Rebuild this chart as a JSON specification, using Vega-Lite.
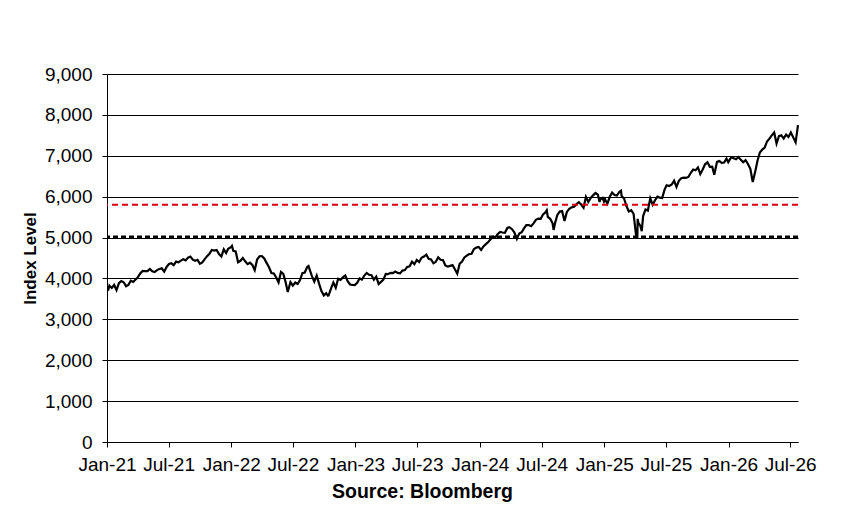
{
  "$schema": "https://vega.github.io/schema/vega-lite/v6.json",
  "width": 691,
  "height": 368,
  "autosize": "none",
  "padding": {"left": 107, "top": 74, "right": 43, "bottom": 69},
  "background": "white",
  "config": {
    "view": {"stroke": null},
    "font": "Liberation Sans",
    "axis": {
      "labelFont": "Liberation Sans",
      "labelFontSize": 19,
      "labelColor": "black",
      "titleFont": "Liberation Sans",
      "titleColor": "black",
      "titleFontWeight": "bold",
      "domainColor": "black",
      "tickColor": "black",
      "tickSize": 5,
      "labelOverlap": false,
      "labelFlush": false
    }
  },
  "datasets": {
    "index": [
      {"date": "2021/01/04", "close": 3701},
      {"date": "2021/01/08", "close": 3825},
      {"date": "2021/01/15", "close": 3768},
      {"date": "2021/01/22", "close": 3841},
      {"date": "2021/01/29", "close": 3714},
      {"date": "2021/02/05", "close": 3887},
      {"date": "2021/02/12", "close": 3934},
      {"date": "2021/02/19", "close": 3907},
      {"date": "2021/02/26", "close": 3811},
      {"date": "2021/03/05", "close": 3842},
      {"date": "2021/03/12", "close": 3943},
      {"date": "2021/03/19", "close": 3913},
      {"date": "2021/03/26", "close": 3975},
      {"date": "2021/04/01", "close": 4020},
      {"date": "2021/04/09", "close": 4129},
      {"date": "2021/04/16", "close": 4185},
      {"date": "2021/04/23", "close": 4180},
      {"date": "2021/04/30", "close": 4181},
      {"date": "2021/05/07", "close": 4233},
      {"date": "2021/05/14", "close": 4174},
      {"date": "2021/05/21", "close": 4156},
      {"date": "2021/05/28", "close": 4204},
      {"date": "2021/06/04", "close": 4230},
      {"date": "2021/06/11", "close": 4247},
      {"date": "2021/06/18", "close": 4166},
      {"date": "2021/06/25", "close": 4281},
      {"date": "2021/07/02", "close": 4352},
      {"date": "2021/07/09", "close": 4370},
      {"date": "2021/07/16", "close": 4327},
      {"date": "2021/07/23", "close": 4412},
      {"date": "2021/07/30", "close": 4395},
      {"date": "2021/08/06", "close": 4437},
      {"date": "2021/08/13", "close": 4468},
      {"date": "2021/08/20", "close": 4442},
      {"date": "2021/08/27", "close": 4509},
      {"date": "2021/09/03", "close": 4535},
      {"date": "2021/09/10", "close": 4459},
      {"date": "2021/09/17", "close": 4433},
      {"date": "2021/09/24", "close": 4455},
      {"date": "2021/10/01", "close": 4357},
      {"date": "2021/10/08", "close": 4391},
      {"date": "2021/10/15", "close": 4471},
      {"date": "2021/10/22", "close": 4545},
      {"date": "2021/10/29", "close": 4605},
      {"date": "2021/11/05", "close": 4697},
      {"date": "2021/11/12", "close": 4683},
      {"date": "2021/11/19", "close": 4698},
      {"date": "2021/11/26", "close": 4595},
      {"date": "2021/12/03", "close": 4538},
      {"date": "2021/12/10", "close": 4712},
      {"date": "2021/12/17", "close": 4621},
      {"date": "2021/12/23", "close": 4726},
      {"date": "2021/12/31", "close": 4766},
      {"date": "2022/01/03", "close": 4796},
      {"date": "2022/01/07", "close": 4677},
      {"date": "2022/01/14", "close": 4663},
      {"date": "2022/01/21", "close": 4398},
      {"date": "2022/01/28", "close": 4432},
      {"date": "2022/02/04", "close": 4501},
      {"date": "2022/02/11", "close": 4419},
      {"date": "2022/02/18", "close": 4349},
      {"date": "2022/02/25", "close": 4385},
      {"date": "2022/03/04", "close": 4329},
      {"date": "2022/03/11", "close": 4204},
      {"date": "2022/03/18", "close": 4463},
      {"date": "2022/03/25", "close": 4543},
      {"date": "2022/04/01", "close": 4546},
      {"date": "2022/04/08", "close": 4488},
      {"date": "2022/04/14", "close": 4393},
      {"date": "2022/04/22", "close": 4272},
      {"date": "2022/04/29", "close": 4132},
      {"date": "2022/05/06", "close": 4123},
      {"date": "2022/05/13", "close": 4024},
      {"date": "2022/05/20", "close": 3901},
      {"date": "2022/05/27", "close": 4158},
      {"date": "2022/06/03", "close": 4109},
      {"date": "2022/06/10", "close": 3901},
      {"date": "2022/06/16", "close": 3667},
      {"date": "2022/06/24", "close": 3912},
      {"date": "2022/07/01", "close": 3825},
      {"date": "2022/07/08", "close": 3899},
      {"date": "2022/07/15", "close": 3863},
      {"date": "2022/07/22", "close": 3962},
      {"date": "2022/07/29", "close": 4130},
      {"date": "2022/08/05", "close": 4145},
      {"date": "2022/08/12", "close": 4280},
      {"date": "2022/08/16", "close": 4305},
      {"date": "2022/08/19", "close": 4228},
      {"date": "2022/08/26", "close": 4058},
      {"date": "2022/09/02", "close": 3924},
      {"date": "2022/09/09", "close": 4068},
      {"date": "2022/09/16", "close": 3873},
      {"date": "2022/09/23", "close": 3693},
      {"date": "2022/09/30", "close": 3586},
      {"date": "2022/10/07", "close": 3640},
      {"date": "2022/10/12", "close": 3577},
      {"date": "2022/10/14", "close": 3583},
      {"date": "2022/10/21", "close": 3753},
      {"date": "2022/10/28", "close": 3901},
      {"date": "2022/11/04", "close": 3771},
      {"date": "2022/11/11", "close": 3993},
      {"date": "2022/11/18", "close": 3965},
      {"date": "2022/11/25", "close": 4026},
      {"date": "2022/12/02", "close": 4072},
      {"date": "2022/12/09", "close": 3934},
      {"date": "2022/12/16", "close": 3852},
      {"date": "2022/12/23", "close": 3845},
      {"date": "2022/12/30", "close": 3840},
      {"date": "2023/01/06", "close": 3895},
      {"date": "2023/01/13", "close": 3999},
      {"date": "2023/01/20", "close": 3973},
      {"date": "2023/01/27", "close": 4071},
      {"date": "2023/02/03", "close": 4136},
      {"date": "2023/02/10", "close": 4090},
      {"date": "2023/02/17", "close": 4079},
      {"date": "2023/02/24", "close": 3970},
      {"date": "2023/03/03", "close": 4046},
      {"date": "2023/03/10", "close": 3862},
      {"date": "2023/03/17", "close": 3917},
      {"date": "2023/03/24", "close": 3971},
      {"date": "2023/03/31", "close": 4109},
      {"date": "2023/04/06", "close": 4105},
      {"date": "2023/04/14", "close": 4138},
      {"date": "2023/04/21", "close": 4133},
      {"date": "2023/04/28", "close": 4169},
      {"date": "2023/05/05", "close": 4136},
      {"date": "2023/05/12", "close": 4124},
      {"date": "2023/05/19", "close": 4192},
      {"date": "2023/05/26", "close": 4205},
      {"date": "2023/06/02", "close": 4282},
      {"date": "2023/06/09", "close": 4299},
      {"date": "2023/06/16", "close": 4410},
      {"date": "2023/06/23", "close": 4348},
      {"date": "2023/06/30", "close": 4450},
      {"date": "2023/07/07", "close": 4399},
      {"date": "2023/07/14", "close": 4505},
      {"date": "2023/07/21", "close": 4536},
      {"date": "2023/07/28", "close": 4582},
      {"date": "2023/08/04", "close": 4478},
      {"date": "2023/08/11", "close": 4464},
      {"date": "2023/08/18", "close": 4370},
      {"date": "2023/08/25", "close": 4406},
      {"date": "2023/09/01", "close": 4516},
      {"date": "2023/09/08", "close": 4457},
      {"date": "2023/09/15", "close": 4450},
      {"date": "2023/09/22", "close": 4320},
      {"date": "2023/09/29", "close": 4288},
      {"date": "2023/10/06", "close": 4308},
      {"date": "2023/10/13", "close": 4327},
      {"date": "2023/10/20", "close": 4224},
      {"date": "2023/10/27", "close": 4117},
      {"date": "2023/11/03", "close": 4358},
      {"date": "2023/11/10", "close": 4415},
      {"date": "2023/11/17", "close": 4514},
      {"date": "2023/11/24", "close": 4559},
      {"date": "2023/12/01", "close": 4595},
      {"date": "2023/12/08", "close": 4604},
      {"date": "2023/12/15", "close": 4719},
      {"date": "2023/12/22", "close": 4754},
      {"date": "2023/12/29", "close": 4770},
      {"date": "2024/01/05", "close": 4697},
      {"date": "2024/01/12", "close": 4784},
      {"date": "2024/01/19", "close": 4840},
      {"date": "2024/01/26", "close": 4891},
      {"date": "2024/02/02", "close": 4959},
      {"date": "2024/02/09", "close": 5027},
      {"date": "2024/02/16", "close": 5006},
      {"date": "2024/02/23", "close": 5089},
      {"date": "2024/03/01", "close": 5137},
      {"date": "2024/03/08", "close": 5124},
      {"date": "2024/03/15", "close": 5117},
      {"date": "2024/03/22", "close": 5234},
      {"date": "2024/03/28", "close": 5254},
      {"date": "2024/04/05", "close": 5204},
      {"date": "2024/04/12", "close": 5123},
      {"date": "2024/04/19", "close": 4967},
      {"date": "2024/04/26", "close": 5100},
      {"date": "2024/05/03", "close": 5128},
      {"date": "2024/05/10", "close": 5223},
      {"date": "2024/05/17", "close": 5303},
      {"date": "2024/05/24", "close": 5305},
      {"date": "2024/05/31", "close": 5278},
      {"date": "2024/06/07", "close": 5347},
      {"date": "2024/06/14", "close": 5432},
      {"date": "2024/06/21", "close": 5465},
      {"date": "2024/06/28", "close": 5460},
      {"date": "2024/07/05", "close": 5567},
      {"date": "2024/07/12", "close": 5615},
      {"date": "2024/07/16", "close": 5667},
      {"date": "2024/07/19", "close": 5505},
      {"date": "2024/07/26", "close": 5459},
      {"date": "2024/08/02", "close": 5347},
      {"date": "2024/08/05", "close": 5186},
      {"date": "2024/08/09", "close": 5344},
      {"date": "2024/08/16", "close": 5554},
      {"date": "2024/08/23", "close": 5635},
      {"date": "2024/08/30", "close": 5648},
      {"date": "2024/09/06", "close": 5408},
      {"date": "2024/09/13", "close": 5626},
      {"date": "2024/09/20", "close": 5703},
      {"date": "2024/09/27", "close": 5738},
      {"date": "2024/10/04", "close": 5751},
      {"date": "2024/10/11", "close": 5815},
      {"date": "2024/10/18", "close": 5865},
      {"date": "2024/10/25", "close": 5808},
      {"date": "2024/11/01", "close": 5729},
      {"date": "2024/11/08", "close": 5996},
      {"date": "2024/11/15", "close": 5871},
      {"date": "2024/11/22", "close": 5969},
      {"date": "2024/11/29", "close": 6032},
      {"date": "2024/12/06", "close": 6090},
      {"date": "2024/12/13", "close": 6051},
      {"date": "2024/12/18", "close": 5872},
      {"date": "2024/12/20", "close": 5931},
      {"date": "2024/12/27", "close": 5971},
      {"date": "2024/12/31", "close": 5882},
      {"date": "2025/01/03", "close": 5942},
      {"date": "2025/01/10", "close": 5827},
      {"date": "2025/01/17", "close": 5997},
      {"date": "2025/01/24", "close": 6101},
      {"date": "2025/01/31", "close": 6041},
      {"date": "2025/02/07", "close": 6026},
      {"date": "2025/02/14", "close": 6115},
      {"date": "2025/02/19", "close": 6144},
      {"date": "2025/02/21", "close": 6013},
      {"date": "2025/02/28", "close": 5955},
      {"date": "2025/03/07", "close": 5770},
      {"date": "2025/03/14", "close": 5639},
      {"date": "2025/03/21", "close": 5668},
      {"date": "2025/03/28", "close": 5581},
      {"date": "2025/04/04", "close": 5074},
      {"date": "2025/04/08", "close": 4983},
      {"date": "2025/04/09", "close": 5457},
      {"date": "2025/04/11", "close": 5363},
      {"date": "2025/04/17", "close": 5283},
      {"date": "2025/04/21", "close": 5158},
      {"date": "2025/04/25", "close": 5525},
      {"date": "2025/05/02", "close": 5687},
      {"date": "2025/05/09", "close": 5660},
      {"date": "2025/05/16", "close": 5958},
      {"date": "2025/05/23", "close": 5803},
      {"date": "2025/05/30", "close": 5912},
      {"date": "2025/06/06", "close": 6000},
      {"date": "2025/06/13", "close": 5977},
      {"date": "2025/06/20", "close": 5968},
      {"date": "2025/06/27", "close": 6173},
      {"date": "2025/07/03", "close": 6279},
      {"date": "2025/07/11", "close": 6260},
      {"date": "2025/07/18", "close": 6297},
      {"date": "2025/07/25", "close": 6389},
      {"date": "2025/08/01", "close": 6238},
      {"date": "2025/08/08", "close": 6389},
      {"date": "2025/08/15", "close": 6450},
      {"date": "2025/08/22", "close": 6467},
      {"date": "2025/08/29", "close": 6460},
      {"date": "2025/09/05", "close": 6482},
      {"date": "2025/09/12", "close": 6584},
      {"date": "2025/09/19", "close": 6664},
      {"date": "2025/09/26", "close": 6644},
      {"date": "2025/10/03", "close": 6716},
      {"date": "2025/10/10", "close": 6553},
      {"date": "2025/10/17", "close": 6664},
      {"date": "2025/10/24", "close": 6792},
      {"date": "2025/10/31", "close": 6840},
      {"date": "2025/11/07", "close": 6729},
      {"date": "2025/11/14", "close": 6734},
      {"date": "2025/11/20", "close": 6538},
      {"date": "2025/11/28", "close": 6849},
      {"date": "2025/12/05", "close": 6870},
      {"date": "2025/12/12", "close": 6827},
      {"date": "2025/12/19", "close": 6834},
      {"date": "2025/12/26", "close": 6930},
      {"date": "2025/12/31", "close": 6845},
      {"date": "2026/01/09", "close": 6966},
      {"date": "2026/01/16", "close": 6940},
      {"date": "2026/01/23", "close": 6915},
      {"date": "2026/01/30", "close": 6970},
      {"date": "2026/02/06", "close": 6900},
      {"date": "2026/02/13", "close": 6840},
      {"date": "2026/02/20", "close": 6890},
      {"date": "2026/02/27", "close": 6800},
      {"date": "2026/03/06", "close": 6680},
      {"date": "2026/03/13", "close": 6360},
      {"date": "2026/03/20", "close": 6600},
      {"date": "2026/03/27", "close": 6880},
      {"date": "2026/04/03", "close": 7080},
      {"date": "2026/04/10", "close": 7150},
      {"date": "2026/04/17", "close": 7200},
      {"date": "2026/04/24", "close": 7350},
      {"date": "2026/05/01", "close": 7420},
      {"date": "2026/05/08", "close": 7500},
      {"date": "2026/05/15", "close": 7570},
      {"date": "2026/05/22", "close": 7300},
      {"date": "2026/05/29", "close": 7480},
      {"date": "2026/06/05", "close": 7500},
      {"date": "2026/06/12", "close": 7420},
      {"date": "2026/06/19", "close": 7520},
      {"date": "2026/06/26", "close": 7460},
      {"date": "2026/07/03", "close": 7570},
      {"date": "2026/07/10", "close": 7450},
      {"date": "2026/07/17", "close": 7330},
      {"date": "2026/07/24", "close": 7750}
    ],
    "levels": [
      {"level": 5800, "kind": "red"},
      {"level": 5020, "kind": "black"}
    ]
  },
  "layer": [
    {
      "data": {"name": "index"},
      "mark": {"type": "line", "color": "black", "strokeWidth": 2.2},
      "encoding": {
        "x": {
          "field": "date",
          "type": "temporal",
          "scale": {
            "domain": [
              {"year": 2021, "month": 1, "date": 1},
              {"year": 2026, "month": 7, "date": 24}
            ]
          },
          "axis": {
            "title": "Source: Bloomberg",
            "titleFontSize": 19.5,
            "titleX": 315,
            "titleY": 55,
            "titleAlign": "center",
            "titleBaseline": "alphabetic",
            "format": "%b-%y",
            "labelPadding": 8,
            "grid": false,
            "values": [
              {"year": 2021, "month": 1, "date": 1},
              {"year": 2021, "month": 7, "date": 1},
              {"year": 2022, "month": 1, "date": 1},
              {"year": 2022, "month": 7, "date": 1},
              {"year": 2023, "month": 1, "date": 1},
              {"year": 2023, "month": 7, "date": 1},
              {"year": 2024, "month": 1, "date": 1},
              {"year": 2024, "month": 7, "date": 1},
              {"year": 2025, "month": 1, "date": 1},
              {"year": 2025, "month": 7, "date": 1},
              {"year": 2026, "month": 1, "date": 1},
              {"year": 2026, "month": 7, "date": 1}
            ]
          }
        },
        "y": {
          "field": "close",
          "type": "quantitative",
          "scale": {"domain": [0, 9000], "nice": false},
          "axis": {
            "title": "Index Level",
            "titleFontSize": 17,
            "titleX": -77,
            "titleY": 184,
            "titleAngle": -90,
            "titleAlign": "center",
            "titleBaseline": "middle",
            "format": ",d",
            "labelPadding": 10,
            "values": [0, 1000, 2000, 3000, 4000, 5000, 6000, 7000, 8000, 9000],
            "grid": true,
            "gridColor": "black",
            "gridWidth": 1,
            "gridOpacity": 1
          }
        }
      }
    },
    {
      "data": {"name": "levels"},
      "transform": [{"filter": "datum.kind == 'red'"}],
      "mark": {"type": "rule", "color": "#d7000f", "strokeWidth": 2, "strokeDash": [6, 4]},
      "encoding": {
        "y": {"field": "level", "type": "quantitative"}
      }
    },
    {
      "data": {"name": "levels"},
      "transform": [{"filter": "datum.kind == 'black'"}],
      "mark": {"type": "rule", "color": "black", "strokeWidth": 2.5, "strokeDash": [5, 3]},
      "encoding": {
        "y": {"field": "level", "type": "quantitative"}
      }
    }
  ]
}
